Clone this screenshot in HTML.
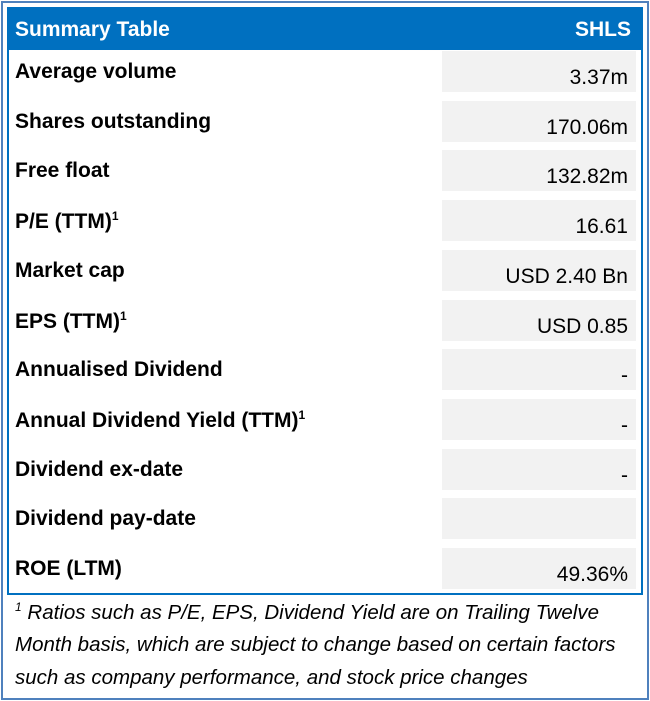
<!DOCTYPE html>
<html><head><meta charset="utf-8"><style>
body{margin:0;width:650px;height:701px;background:#fff;position:relative;overflow:hidden;font-family:"Liberation Sans",sans-serif;}
.outer{position:absolute;left:1px;top:1px;width:644px;height:695px;border:2px solid #4f81bd;}
.box{position:absolute;left:7px;top:7px;width:632px;height:584px;border:2px solid #0070c0;}
.hdr{position:absolute;left:9px;top:9px;width:632px;height:41px;background:#0070c0;color:#fff;font-weight:bold;font-size:21px;}
.hdr span{position:absolute;top:9px;}
.lab{position:absolute;left:15px;font-weight:bold;font-size:21px;color:#000;}
.cell{position:absolute;left:442px;width:194px;height:41px;background:#f2f2f2;}
.val{position:absolute;right:8px;top:15px;font-size:21px;color:#000;}
sup{font-size:12px;}
.foot{position:absolute;left:15px;top:591px;width:630px;font-style:italic;font-size:20.5px;line-height:32.5px;color:#000;white-space:nowrap;}
</style></head><body>
<div class="outer"></div>
<div class="box"></div>
<div class="hdr"><span style="left:6px">Summary Table</span><span style="right:10px">SHLS</span></div>
<div id="rows"></div>
<div class="foot"><sup>1</sup> Ratios such as P/E, EPS, Dividend Yield are on Trailing Twelve<br>Month basis, which are subject to change based on certain factors<br>such as company performance, and stock price changes</div>
<script>
const labels=["Average volume","Shares outstanding","Free float","P/E (TTM)<sup>1</sup>","Market cap","EPS (TTM)<sup>1</sup>","Annualised Dividend","Annual Dividend Yield (TTM)<sup>1</sup>","Dividend ex-date","Dividend pay-date","ROE (LTM)"];
const values=["3.37m","170.06m","132.82m","16.61","USD 2.40 Bn","USD 0.85","-","-","-","","49.36%"];
const root=document.getElementById('rows');
labels.forEach((l,i)=>{
  const top=51+i*49.7;
  const lab=document.createElement('div');
  lab.className='lab';lab.style.top=(top+9)+'px';lab.innerHTML=l;
  
  
  root.appendChild(lab);
  const c=document.createElement('div');
  c.className='cell';c.style.top=top+'px';
  
  
  const v=document.createElement('span');v.className='val';v.textContent=values[i];
  
  
  c.appendChild(v);root.appendChild(c);
});
</script>
</body></html>
